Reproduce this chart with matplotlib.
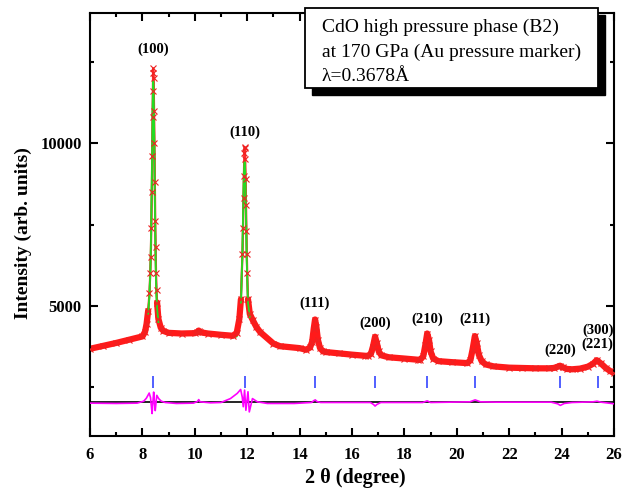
"""
CdO B2 phase powder diffraction pattern (Rietveld-style fit plot).
"""

import matplotlib
matplotlib.use("Agg")
import matplotlib.pyplot as plt
import numpy as np
from matplotlib.patches import Rectangle
from matplotlib.ticker import MultipleLocator

# ── data ──
two_theta = [6.0, 6.5, 7.0, 7.5, 8.0, 8.1, 8.16,
             8.22, 8.27, 8.30, 8.32, 8.34, 8.36, 8.375, 8.39, 8.40, 8.41,
             8.42, 8.43, 8.445, 8.46, 8.475, 8.49, 8.505, 8.52, 8.54, 8.56,
             8.61, 8.7, 8.8, 9.0, 9.5, 10.0, 10.1, 10.15, 10.2, 10.5, 11.0, 11.45, 11.6,
             11.7, 11.76, 11.82, 11.84, 11.86, 11.875, 11.89, 11.90, 11.91, 11.925,
             11.94, 11.955, 11.97, 11.985, 12.0, 12.03,
             12.1, 12.22, 12.35, 12.5, 13.0, 13.25, 14.0,
             14.25, 14.4, 14.48, 14.54, 14.59, 14.64, 14.7, 14.78, 14.9, 15.0, 15.5,
             16.0, 16.5, 16.6, 16.72, 16.8, 16.88, 16.95, 17.02, 17.12, 17.4, 18.0,
             18.5, 18.6, 18.72, 18.8, 18.87, 18.94, 19.0, 19.1, 19.3, 19.8, 20.4,
             20.52, 20.6, 20.69, 20.76, 20.84, 20.95, 21.1, 21.4, 22.0, 22.5, 23.0,
             23.5, 23.7, 23.85, 23.94, 24.05, 24.2, 24.4, 24.7, 25.0, 25.2, 25.34,
             25.5, 25.7, 25.85, 26.0]
obs = [3680, 3770, 3860, 3960, 4060, 4200, 4450,
       4850, 5400, 6000, 6500, 7400, 8500, 9600, 10800, 11600, 12300,
       12150, 12000, 11000, 10000, 8800, 7600, 6800, 6000, 5500, 5100,
       4600, 4330, 4230, 4170, 4150, 4160, 4200, 4240, 4190, 4150, 4110, 4080, 4170,
       4600, 5200, 6600, 7400, 8300, 9000, 9700, 9880, 9850, 9500,
       8900, 8100, 7300, 6600, 6000, 5200,
       4750, 4550, 4350, 4190, 3840, 3760, 3700,
       3650, 3720, 3900, 4300, 4580, 4350, 3950, 3700, 3600, 3580, 3540,
       3500, 3465, 3460, 3520, 3750, 4050, 3850, 3600, 3480, 3420, 3380,
       3345, 3340, 3450, 3800, 4150, 3950, 3600, 3380, 3300, 3270, 3240,
       3330, 3650, 4070, 3850, 3500, 3300, 3200, 3140, 3100, 3090, 3080,
       3080, 3090, 3130, 3160, 3110, 3060, 3050, 3070, 3130, 3220, 3330,
       3230, 3080, 3000, 2930]
calc = [3650, 3740, 3830, 3930, 4030, 4150, 4380,
        4760, 5350, 6000, 6600, 7700, 8800, 9900, 10900, 11500, 11900,
        11850, 11500, 10600, 9600, 8400, 7300, 6500, 5800, 5300, 4950,
        4500, 4270, 4200, 4150, 4140, 4150, 4160, 4170, 4160, 4130, 4080, 4030, 4060,
        4450, 5100, 6700, 7600, 8500, 9100, 9400, 9420, 9400, 9100,
        8500, 7800, 7100, 6400, 5900, 5100,
        4650, 4450, 4300, 4150, 3820, 3740, 3680,
        3640, 3710, 3890, 4300, 4550, 4330, 3950, 3700, 3600, 3570, 3530,
        3490, 3460, 3460, 3540, 3800, 4110, 3880, 3600, 3470, 3410, 3370,
        3340, 3340, 3450, 3800, 4130, 3950, 3600, 3380, 3290, 3260, 3230,
        3320, 3640, 4050, 3840, 3490, 3290, 3190, 3130, 3090, 3080, 3070,
        3070, 3090, 3150, 3210, 3130, 3060, 3040, 3060, 3120, 3210, 3310,
        3220, 3070, 2990, 2950]

diff_x = [6.0, 7.0, 7.8, 8.05, 8.15, 8.26, 8.31, 8.34, 8.37, 8.40, 8.43, 8.46, 8.49,
          8.52, 8.55, 8.62, 8.72, 8.87, 9.3, 9.95, 10.1, 10.15, 10.2, 10.6, 11.0,
          11.36, 11.62, 11.75, 11.81, 11.85, 11.90, 11.95, 12.03, 12.08, 12.2, 12.39,
          12.77, 13.8, 14.45, 14.55, 14.6, 14.66, 14.8, 16.7, 16.82, 16.88, 16.95,
          17.1, 18.7, 18.87, 19.0, 20.5, 20.7, 20.9, 21.5, 23.6, 23.85, 23.95, 24.1,
          24.4, 25.2, 25.35, 25.5, 26.0]
diff_y = [-20, -30, -20, 40, 130, 290, 150, -100, -340, 0, 320, 0, -250,
          0, 220, 120, 40, 0, -30, -20, 30, 90, 20, -10, 0,
          120, 280, 400, 170, -130, 380, -240, 330, -290, 120, 20,
          -30, -30, 0, 60, 80, 30, 0, 0, -60, -110, -60,
          0, 0, 50, 0, 20, 80, 20, 10, 10, -40, -90, -30,
          0, 20, 40, 10, -40]
diff_offset = 2030

bragg_pos = [8.41, 11.90, 14.59, 16.87, 18.87, 20.69, 23.93, 25.38]
hkl_labels = ["(100)", "(110)", "(111)", "(200)", "(210)", "(211)", "(220)", "(300)\n(221)"]
box_lines = ["CdO high pressure phase (B2)",
             "at 170 GPa (Au pressure marker)",
             "λ=0.3678Å"]

# label heights (layout only)
label_y = [12900, 10320, 5080, 4470, 4590, 4590, 3640, 4030]

plt.rcParams["font.family"] = ["Liberation Serif", "DejaVu Serif"]

fig = plt.figure(figsize=(6.22, 4.93), dpi=100)
ax = fig.add_axes([90 / 622, 57 / 493, 524 / 622, 423 / 493])

# calc under the obs band in the background, on top of it along the strong peaks
calc_arr = np.array(calc, dtype=float)
obs_arr = np.array(obs, dtype=float)
ax.plot(two_theta, calc_arr, color="#22dd22", linewidth=1.4, zorder=1.5)
ax.plot(two_theta, obs_arr, color="#ff2a2a", linewidth=1.6, zorder=1.6)
ax.plot(two_theta, np.ma.masked_where(calc_arr < 4500, calc_arr),
        color="#22dd22", linewidth=1.3, zorder=3)
ax.plot(two_theta, np.ma.masked_where(obs_arr > 5300, obs_arr),
        color="#ff1a1a", linewidth=4.5, solid_capstyle="round", zorder=2)
ax.plot(two_theta, obs, linestyle="none", marker="x", markersize=4,
        markeredgewidth=0.8, color="#ee2222", zorder=4)

ax.axhline(diff_offset, color="black", linewidth=1.2, zorder=2)
ax.plot(diff_x, [d + diff_offset for d in diff_y], color="#ff00ff", linewidth=1.2, zorder=3)
ax.plot(bragg_pos, [2670] * len(bragg_pos), linestyle="none", marker="|",
        markersize=8, markeredgewidth=1.2, color="#3344ff", zorder=3)

for x, lab, y in zip(bragg_pos, hkl_labels, label_y):
    ax.text(x, y, lab, ha="center", va="center", fontsize=10.5, fontweight="bold",
            linespacing=1.1)

ax.set_xlim(6, 26)
ax.set_ylim(1000, 14000)
ax.xaxis.set_major_locator(MultipleLocator(2))
ax.xaxis.set_minor_locator(MultipleLocator(1))
ax.yaxis.set_major_locator(MultipleLocator(5000))
ax.yaxis.set_minor_locator(MultipleLocator(2500))
ax.tick_params(which="both", direction="in", top=True, right=True, width=1.5)
ax.tick_params(which="major", length=6, labelsize=12)
ax.tick_params(axis="x", which="major", pad=8)
ax.tick_params(axis="y", which="major", pad=6)
ax.tick_params(which="minor", length=3)
for lbl in ax.get_xticklabels() + ax.get_yticklabels():
    lbl.set_fontweight("bold")
for sp in ax.spines.values():
    sp.set_linewidth(1.5)

fig.text(23 / 622, 1 - 233 / 493, "Intensity (arb. units)", rotation=90,
         ha="center", va="center", fontsize=14, fontweight="bold")
fig.text(355 / 622, 1 - 478 / 493, "2 θ (degree)", ha="center", va="center",
         fontsize=14.5, fontweight="bold")

# info box with drop shadow
bx, by, bw, bh = 305 / 622, 1 - 88 / 493, 293 / 622, 80 / 493
fig.add_artist(Rectangle((bx + 7 / 622, by - 7 / 493), bw, bh, transform=fig.transFigure,
                         facecolor="black", edgecolor="black", zorder=5))
fig.add_artist(Rectangle((bx, by), bw, bh, transform=fig.transFigure,
                         facecolor="white", edgecolor="black", linewidth=1.3, zorder=6))
for i, line in enumerate(box_lines):
    fig.text(322 / 622, 1 - (32 + 24.5 * i) / 493, line, ha="left", va="baseline",
             fontsize=14, zorder=7)

fig.savefig("out.png", dpi=100)
plt.close(fig)
